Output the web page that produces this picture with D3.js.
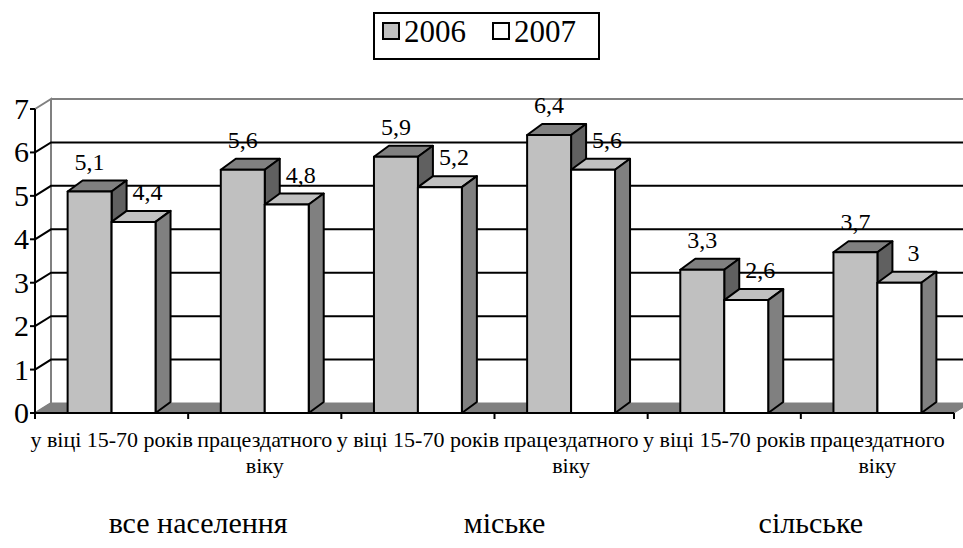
<!DOCTYPE html>
<html>
<head>
<meta charset="utf-8">
<script src="https://cdn.jsdelivr.net/npm/d3@7"></script>
</head>
<body style="margin:0; background:#fff">
<script>
// chart data
var categories = ['у віці 15-70 років', 'працездатного\nвіку', 'у віці 15-70 років', 'працездатного\nвіку', 'у віці 15-70 років', 'працездатного\nвіку']
var groups = ['все населення', 'міське', 'сільське']
var seriesNames = ['2006', '2007']
var values2006 = [5.1, 5.6, 5.9, 6.4, 3.3, 3.7]
var values2007 = [4.4, 4.8, 5.2, 5.6, 2.6, 3]
var yTicks = [0, 1, 2, 3, 4, 5, 6, 7]

var width = 963, height = 548
var font = "'Liberation Serif', 'Times New Roman', serif"

var svg = d3.select('body').append('svg')
  .attr('width', width)
  .attr('height', height)
  .style('display', 'block')

// 3d offsets
var wallDx = 16, wallDy = -10
var barDx = 15, barDy = -11

var x = d3.scaleBand()
  .domain(d3.range(categories.length))
  .range([35, 954])

var xs = d3.scaleBand()
  .domain(seriesNames)
  .range([x.bandwidth() * 0.213, x.bandwidth() * 0.787])

var y = d3.scaleLinear()
  .domain([0, 7])
  .range([413, 109])

var fronts = { '2006': '#c0c0c0', '2007': '#ffffff' }
var tops = { '2006': '#808080', '2007': '#c0c0c0' }
var sides = { '2006': '#606060', '2007': '#808080' }

var x0 = x.range()[0], x1 = x.range()[1]

function txt(sel, size) {
  return sel.append('text')
    .style('font-family', font)
    .style('font-size', size + 'px')
    .style('fill', '#000')
}

// walls
svg.append('polygon')
  .attr('points', [[x0, y(7)], [x0 + wallDx, y(7) + wallDy], [x0 + wallDx, y(0) + wallDy], [x0, y(0)]].join(' '))
  .style('fill', '#fff')
  .style('stroke', '#808080')
  .style('stroke-width', 2)

svg.append('line')
  .attr('x1', x0 + wallDx).attr('x2', width + 5)
  .attr('y1', y(7) + wallDy).attr('y2', y(7) + wallDy)
  .style('stroke', '#808080')
  .style('stroke-width', 2)

// floor
svg.append('polygon')
  .attr('points', [[x0, y(0)], [x1, y(0)], [x1 + wallDx, y(0) + wallDy], [x0 + wallDx, y(0) + wallDy]].join(' '))
  .style('fill', '#808080')
  .style('stroke', '#808080')

// gridlines
var grid = svg.append('g').attr('class', 'grid')
yTicks.filter(function(t) { return t > 0 && t < 7 }).forEach(function(t) {
  grid.append('polyline')
    .attr('points', [[x0, y(t)], [x0 + wallDx, y(t) + wallDy], [width + 5, y(t) + wallDy]].join(' '))
    .style('fill', 'none')
    .style('stroke', '#000')
    .style('stroke-width', 2)
})

// bars
var bars = svg.append('g').attr('class', 'bars')
categories.forEach(function(c, i) {
  [values2006[i], values2007[i]].forEach(function(v, j) {
    var s = seriesNames[j]
    var bx = x(i) + xs(s), bw = xs.bandwidth()
    var by = y(v), bb = y(0)
    var g = bars.append('g')
    g.append('polygon')
      .attr('points', [[bx, by], [bx + bw, by], [bx + bw + barDx, by + barDy], [bx + barDx, by + barDy]].join(' '))
      .style('fill', tops[s])
    g.append('polygon')
      .attr('points', [[bx + bw, by], [bx + bw + barDx, by + barDy], [bx + bw + barDx, bb + barDy], [bx + bw, bb]].join(' '))
      .style('fill', sides[s])
    g.append('rect')
      .attr('x', bx).attr('y', by)
      .attr('width', bw).attr('height', bb - by)
      .style('fill', fronts[s])
    g.selectAll('polygon, rect')
      .style('stroke', '#000')
      .style('stroke-width', 2)
      .style('stroke-linejoin', 'round')
  })
})

// data labels
var labels = svg.append('g').attr('class', 'labels')
categories.forEach(function(c, i) {
  [values2006[i], values2007[i]].forEach(function(v, j) {
    var s = seriesNames[j]
    txt(labels, 24)
      .attr('x', x(i) + xs(s) + xs.bandwidth() / 2 + (j ? 14 : 0))
      .attr('y', y(v) + barDy - 11)
      .attr('text-anchor', 'middle')
      .text(String(v).replace('.', ','))
  })
})

// axes
svg.append('line')
  .attr('x1', x0).attr('x2', x1)
  .attr('y1', y(0)).attr('y2', y(0))
  .style('stroke', '#000').style('stroke-width', 2)

svg.append('line')
  .attr('x1', x0).attr('x2', x0)
  .attr('y1', y(7)).attr('y2', y(0))
  .style('stroke', '#000').style('stroke-width', 2)

var yAxis = svg.append('g')
yTicks.forEach(function(t) {
  yAxis.append('line')
    .attr('x1', x0 - 5).attr('x2', x0)
    .attr('y1', y(t)).attr('y2', y(t))
    .style('stroke', '#000').style('stroke-width', 2)
  txt(yAxis, 30)
    .attr('x', x0 - 6)
    .attr('y', y(t) + 10)
    .attr('text-anchor', 'end')
    .text(t)
})

var xAxis = svg.append('g')
d3.range(categories.length + 1).forEach(function(i) {
  var tx = x0 + i * x.bandwidth()
  xAxis.append('line')
    .attr('x1', tx).attr('x2', tx)
    .attr('y1', y(0)).attr('y2', y(0) + 6)
    .style('stroke', '#000').style('stroke-width', 2)
})
categories.forEach(function(c, i) {
  var t = txt(xAxis, 22)
    .attr('text-anchor', 'middle')
  c.split('\n').forEach(function(line, k) {
    t.append('tspan')
      .attr('x', x(i) + x.bandwidth() / 2)
      .attr('y', 447 + k * 26)
      .text(line)
  })
})

groups.forEach(function(g, k) {
  txt(svg, 30)
    .attr('x', x(k * 2) + x.bandwidth() + 10)
    .attr('y', 533)
    .attr('text-anchor', 'middle')
    .text(g)
})

// legend
var legend = svg.append('g')
legend.append('rect')
  .attr('x', 374).attr('y', 13)
  .attr('width', 225).attr('height', 46)
  .style('fill', '#fff')
  .style('stroke', '#000')
  .style('stroke-width', 2)

seriesNames.forEach(function(s, j) {
  var lx = 383 + j * 110
  legend.append('rect')
    .attr('x', lx).attr('y', 23)
    .attr('width', 16).attr('height', 16)
    .style('fill', fronts[s])
    .style('stroke', '#000')
    .style('stroke-width', 2)
  txt(legend, 31)
    .attr('x', lx + 21)
    .attr('y', 42)
    .text(s)
})
</script>
</body>
</html>
